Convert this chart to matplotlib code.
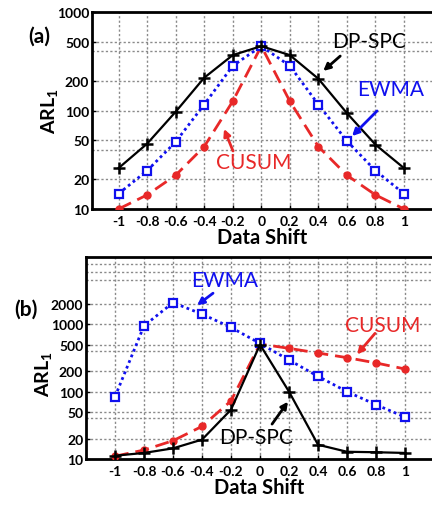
import matplotlib
matplotlib.use("Agg")
import matplotlib.pyplot as plt
import numpy as np

plt.rcParams['font.family'] = ['Lato', 'DejaVu Sans']
plt.rcParams['mathtext.fontset'] = 'custom'
plt.rcParams['mathtext.rm'] = 'Lato:bold'
plt.rcParams['mathtext.default'] = 'rm'

shift = [-1, -0.8, -0.6, -0.4, -0.2, 0, 0.2, 0.4, 0.6, 0.8, 1]
xtick_labels = ['-1', '-0.8', '-0.6', '-0.4', '-0.2', '0', '0.2', '0.4', '0.6', '0.8', '1']

# Panel (a)
a_dpspc = [26, 46, 97, 215, 365, 450, 365, 210, 94, 45, 26]
a_ewma = [14.3, 24.5, 48, 115, 284, 450, 284, 115, 49, 24.5, 14.3]
a_cusum = [10, 13.9, 22, 43, 124, 450, 124, 43, 22, 13.9, 10]
a_yticks = [10, 20, 50, 100, 200, 500, 1000]
a_grid_y = [20, 40, 50, 100, 200, 400, 500]

# Panel (b)
b_dpspc = [11.2, 12.3, 14.4, 19.4, 54, 500, 100, 16.3, 12.8, 12.6, 12.3]
b_ewma = [84, 950, 2100, 1420, 900, 520, 295, 169, 100, 64, 42]
b_cusum = [11, 13.6, 18.7, 30.5, 73, 510, 440, 375, 320, 267, 217]
b_yticks = [10, 20, 50, 100, 200, 500, 1000, 2000]
b_grid_y = [20, 40, 50, 100, 200, 400, 500, 1000, 2000, 4500, 6000, 8000]

W, H = 432, 506
fig = plt.figure(figsize=(W / 100, H / 100), dpi=100)

BLUE = '#1010ee'
RED = '#e82828'
GRID = '#8a8a8a'

def make_axes(rect, xlim, ylim, yticks, grid_y):
    ax = fig.add_axes(rect)
    ax.set_yscale('log')
    ax.set_xlim(*xlim)
    ax.set_ylim(*ylim)
    ax.set_xticks(shift)
    ax.set_xticklabels(xtick_labels)
    ax.set_yticks(yticks)
    ax.set_yticklabels([str(t) for t in yticks])
    ax.yaxis.set_minor_locator(matplotlib.ticker.NullLocator())
    for t in ax.get_xticklabels() + ax.get_yticklabels():
        t.set_fontweight('bold')
        t.set_fontsize(10)
    ax.tick_params(axis='both', which='major', direction='in', length=3,
                   width=1, pad=2)
    ax.tick_params(axis='x', pad=4)
    for x in shift:
        ax.axvline(x, color=GRID, lw=1.0, ls=(0, (1.6, 1.6)), zorder=1,
                   snap=True)
    for y in grid_y:
        ax.axhline(y, color=GRID, lw=1.0, ls=(0, (1.6, 1.6)), zorder=1,
                   snap=True)
    for s in ['top', 'left', 'bottom']:
        ax.spines[s].set_linewidth(2)
    ax.spines['right'].set_visible(False)
    ax.set_xlabel('Data Shift', fontsize=14.5, fontweight='bold', labelpad=0)
    return ax

def plot_series(ax, dp, ew, cu):
    ax.plot(shift, cu, color=RED, ls=(0, (5, 2.5)), lw=2, marker='o', ms=5,
            mfc=RED, mec=RED, zorder=3)
    ax.plot(shift, ew, color=BLUE, ls=(0, (1, 1.2)), lw=2, marker='s', ms=5.5,
            mfc='white', mec=BLUE, mew=1.6, zorder=4)
    ax.plot(shift, dp, color='black', ls='-', lw=1.6, marker='+', ms=8,
            mew=1.8, zorder=5)

def note(ax, text, color, xy, xytext_tail, xytext):
    ax.annotate('', xy=xy, xytext=xytext_tail,
                arrowprops=dict(arrowstyle='-|>', color=color, lw=2,
                                mutation_scale=10, shrinkA=0, shrinkB=0),
                zorder=6)
    ax.text(xytext[0], xytext[1], text, color=color, fontsize=15,
            ha='center', va='center', zorder=6)

# Panel (a)
axa = make_axes([92 / W, 1 - 210 / H, (W - 92) / W, (210 - 13) / H],
                (-1.186, 1.196), (10, 1000), a_yticks, a_grid_y)
plot_series(axa, a_dpspc, a_ewma, a_cusum)
note(axa, 'DP-SPC', 'black', (0.434, 252), (0.553, 357), (0.755, 508))
note(axa, 'EWMA', BLUE, (0.636, 55), (0.811, 99), (0.909, 165))
note(axa, 'CUSUM', RED, (-0.261, 65), (-0.198, 38.8), (-0.051, 30))
fig.text(49 / W, 1 - 111 / H, 'ARL$_\\mathregular{1}$', rotation=90,
         ha='center', va='center', fontsize=14, fontweight='bold')
fig.text(39 / W, 1 - 37 / H, '(a)', ha='center', va='center',
         fontsize=15, fontweight='bold')

# Panel (b)
axb = make_axes([86 / W, 1 - 460 / H, (W - 86) / W, (460 - 258) / H],
                (-1.2, 1.186), (10, 10000), b_yticks, b_grid_y)
plot_series(axb, b_dpspc, b_ewma, b_cusum)
note(axb, 'EWMA', BLUE, (-0.434, 1920), (-0.324, 2900), (-0.241, 4540))
note(axb, 'CUSUM', RED, (0.669, 357), (0.793, 734), (0.848, 967))
note(axb, 'DP-SPC', 'black', (0.193, 71), (0.083, 33), (-0.028, 21.3))
fig.text(43 / W, 1 - 374 / H, 'ARL$_\\mathregular{1}$', rotation=90,
         ha='center', va='center', fontsize=14, fontweight='bold')
fig.text(26 / W, 1 - 310 / H, '(b)', ha='center', va='center',
         fontsize=15, fontweight='bold')

fig.savefig('out.png', dpi=100)
